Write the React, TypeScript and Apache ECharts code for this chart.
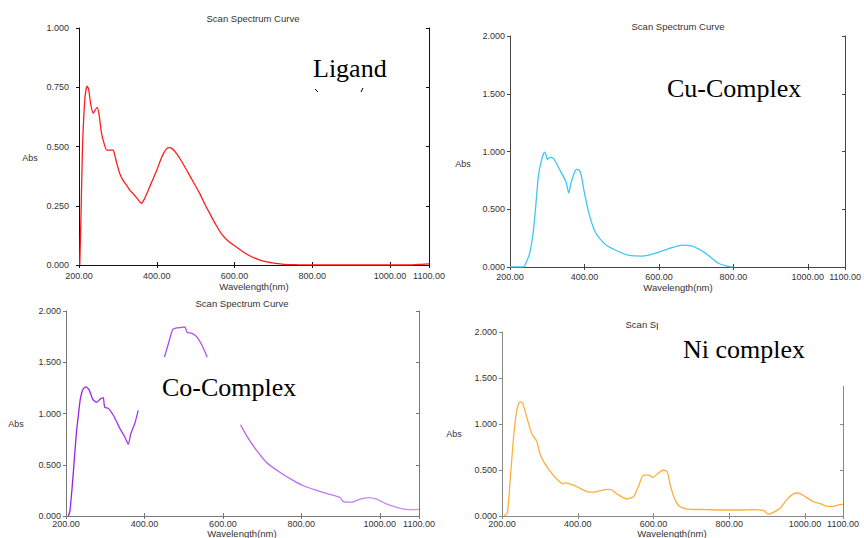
import React, { useEffect, useRef } from "react";
import * as echarts from "echarts";

const xTicks = [200, 400, 600, 800, 1000, 1100];

const ligandWl = [202, 205, 209, 213, 217, 221, 225, 230, 237, 242, 247, 252, 258, 265, 271, 280, 288, 291, 297, 305, 314, 323, 331, 340, 350, 361, 367, 374, 387, 400, 409, 417, 425, 432, 440, 451, 463, 477, 494, 511, 524, 537, 552, 567, 584, 601, 620, 640, 660, 683, 705, 726, 760, 800, 850, 900, 950, 1000, 1050, 1080, 1100];
const ligandAbs = [0, 0.2, 0.5, 0.65, 0.73, 0.755, 0.74, 0.68, 0.64, 0.655, 0.665, 0.63, 0.555, 0.51, 0.485, 0.485, 0.485, 0.47, 0.43, 0.385, 0.355, 0.335, 0.315, 0.3, 0.28, 0.26, 0.275, 0.3, 0.35, 0.4, 0.44, 0.47, 0.49, 0.495, 0.49, 0.47, 0.44, 0.4, 0.35, 0.3, 0.255, 0.215, 0.17, 0.13, 0.1, 0.08, 0.058, 0.038, 0.024, 0.013, 0.007, 0.003, 0.001, 0, 0, 0, 0, 0, 0, 0.003, 0.005];

const cuWl = [200, 236, 245, 253, 262, 269, 276, 285, 293, 297, 300, 307, 317, 334, 350, 358, 362, 365, 372, 378, 385, 391, 400, 414, 431, 458, 494, 521, 556, 592, 627, 663, 690, 725, 761, 796, 800];
const cuAbs = [0, 0, 0.05, 0.12, 0.29, 0.52, 0.78, 0.93, 0.995, 0.97, 0.93, 0.95, 0.94, 0.84, 0.74, 0.64, 0.7, 0.74, 0.81, 0.845, 0.84, 0.8, 0.64, 0.44, 0.29, 0.19, 0.13, 0.1, 0.095, 0.12, 0.16, 0.19, 0.18, 0.12, 0.03, 0, 0];

const coWl = [206, 210, 215, 219, 223, 227, 232, 236, 240, 244, 251, 259, 268, 278, 287, 295, 297, 299, 308, 321, 338, 350, 359, 365, 376, 384, 400, 451, 461, 472, 482, 495, 503, 509, 520, 533, 546, 560, 600, 645, 661, 686, 712, 746, 780, 805, 839, 873, 899, 907, 928, 949, 971, 992, 1018, 1052, 1077, 1100];
const coAbs: (number | null)[] = [0, 0.05, 0.25, 0.44, 0.64, 0.83, 1.0, 1.13, 1.2, 1.24, 1.26, 1.23, 1.14, 1.11, 1.14, 1.155, 1.1, 1.06, 1.05, 0.98, 0.85, 0.77, 0.7, 0.8, 0.91, 1.03, null, 1.55, 1.68, 1.82, 1.835, 1.84, 1.845, 1.79, 1.785, 1.75, 1.67, 1.55, null, 0.89, 0.78, 0.64, 0.52, 0.425, 0.345, 0.295, 0.25, 0.21, 0.18, 0.14, 0.135, 0.165, 0.18, 0.165, 0.115, 0.075, 0.062, 0.065];

const niWl = [205, 214, 221, 230, 239, 247, 254, 265, 278, 292, 300, 313, 335, 353, 360, 366, 379, 397, 424, 441, 459, 476, 489, 507, 529, 547, 560, 573, 586, 598, 612, 626, 636, 645, 657, 670, 696, 740, 784, 837, 859, 890, 903, 916, 934, 951, 969, 982, 1000, 1022, 1040, 1057, 1075, 1088, 1100];
const niAbs = [0, 0.03, 0.36, 0.83, 1.15, 1.24, 1.23, 1.08, 0.9, 0.81, 0.68, 0.57, 0.445, 0.37, 0.35, 0.36, 0.35, 0.32, 0.265, 0.26, 0.275, 0.29, 0.285, 0.23, 0.185, 0.21, 0.32, 0.445, 0.445, 0.42, 0.465, 0.5, 0.48, 0.32, 0.175, 0.1, 0.073, 0.07, 0.065, 0.065, 0.07, 0.06, 0.02, 0.04, 0.085, 0.175, 0.24, 0.25, 0.21, 0.155, 0.135, 0.105, 0.105, 0.12, 0.13];

const titleText = "Scan Spectrum Curve";
const xName = "Wavelength(nm)";
const yName = "Abs";
const panelLabels = ["Ligand", "Cu-Complex", "Co-Complex", "Ni complex"];

const zip = (xs: number[], ys: (number | null)[]) =>
  xs.map((x, i) => [x, ys[i] === null ? "-" : ys[i]]);

const panels = [
  { grid: { left: 79, top: 28, width: 350, height: 237 }, yMax: 1, yInt: 0.25, axisColor: "#111", yMargin: 10, xMargin: 7, title: [253, 18], abs: [30, 158], xname: [254, 286], label: [313, 68], data: zip(ligandWl, ligandAbs), color: "#ff1c1c" },
  { grid: { left: 510, top: 36, width: 337, height: 231 }, yMax: 2, yInt: 0.5, axisColor: "#444", yMargin: 5, xMargin: 6, title: [678, 26], abs: [463, 164], xname: [678, 287], label: [667, 88], data: zip(cuWl, cuAbs), color: "#3cc8f4" },
  { grid: { left: 66, top: 311, width: 353, height: 205 }, yMax: 2, yInt: 0.5, axisColor: "#777", yMargin: 5, xMargin: 4, title: [242, 303], abs: [16, 424], xname: [242, 533.5], label: [162, 387], data: zip(coWl, coAbs), color: new echarts.graphic.LinearGradient(0, 0, 1, 0, [{ offset: 0, color: "#9a1ee6" }, { offset: 0.35, color: "#b050ee" }, { offset: 1, color: "#cc90f2" }]) },
  { grid: { left: 502, top: 332, width: 341, height: 184 }, yMax: 2, yInt: 0.5, axisColor: "#888", yMargin: 5, xMargin: 4, title: [672, 324], abs: [454, 434], xname: [672, 533.5], label: [683, 349], data: zip(niWl, niAbs), color: "#ffae3c" },
];

const labelFont = { fontFamily: "Liberation Sans, Arial, sans-serif", fontSize: 9, lineHeight: 7, color: "#333" };
const yLabelFont = { ...labelFont, lineHeight: 7 };

export default function App() {
  const ref = useRef<HTMLDivElement>(null);
  useEffect(() => {
    if (!ref.current) return;
    const chart = echarts.init(ref.current, undefined, { renderer: "svg" });
    const grids: any[] = [];
    const xAxes: any[] = [];
    const yAxes: any[] = [];
    const series: any[] = [];
    const graphics: any[] = [];
    panels.forEach((p, i) => {
      grids.push({ ...p.grid, containLabel: false });
      const line = { show: true, lineStyle: { color: p.axisColor, width: 1 } };
      xAxes.push({
        type: "value", gridIndex: i, position: "bottom", min: xTicks[0], max: xTicks[xTicks.length - 1], interval: 200,
        axisLine: line, splitLine: { show: false },
        axisTick: { show: true, inside: true, length: 3, lineStyle: { color: p.axisColor } },
        axisLabel: { ...labelFont, margin: p.xMargin, showMinLabel: true, showMaxLabel: true, formatter: (v: number) => v.toFixed(2) },
      });
      xAxes.push({
        type: "value", gridIndex: i, position: "top", min: xTicks[0], max: xTicks[xTicks.length - 1], interval: 200,
        axisLine: line, splitLine: { show: false },
        axisTick: { show: true, inside: true, length: 3, lineStyle: { color: p.axisColor } },
        axisLabel: { show: false },
      });
      yAxes.push({
        type: "value", gridIndex: i, position: "left", min: 0, max: p.yMax, interval: p.yInt,
        axisLine: line, splitLine: { show: false },
        axisTick: { show: true, inside: false, length: 3, lineStyle: { color: p.axisColor } },
        axisLabel: { ...yLabelFont, margin: p.yMargin, showMinLabel: true, showMaxLabel: true, formatter: (v: number) => v.toFixed(3) },
      });
      yAxes.push({
        type: "value", gridIndex: i, position: "right", min: 0, max: p.yMax, interval: p.yInt,
        axisLine: line, splitLine: { show: false },
        axisTick: { show: true, inside: true, length: 3, lineStyle: { color: p.axisColor } },
        axisLabel: { show: false },
      });
      series.push({
        type: "line", xAxisIndex: i * 2, yAxisIndex: i * 2, data: p.data,
        showSymbol: false, smooth: 0.2, connectNulls: false, clip: true,
        lineStyle: { color: p.color, width: 1.3 }, z: 3,
      });
      graphics.push({ type: "text", x: p.title[0], y: p.title[1], style: { text: titleText, align: "center", verticalAlign: "middle", font: "9.5px 'Liberation Sans', Arial, sans-serif", lineHeight: 9, fill: "#333" }, z: 10 });
      graphics.push({ type: "text", x: p.abs[0], y: p.abs[1], style: { text: yName, align: "center", verticalAlign: "middle", font: "9px 'Liberation Sans', Arial, sans-serif", lineHeight: 9, fill: "#333" }, z: 10 });
      graphics.push({ type: "text", x: p.xname[0], y: p.xname[1], style: { text: xName, align: "center", verticalAlign: "middle", font: "9.5px 'Liberation Sans', Arial, sans-serif", lineHeight: 8, fill: "#333" }, z: 10 });
    });
    // white patch that covers the top-right of the Ni panel
    graphics.push({ type: "rect", shape: { x: 658, y: 295, width: 206, height: 91 }, style: { fill: "#fff" }, z: 100 });
    panels.forEach((p, i) => {
      graphics.push({ type: "text", x: p.label[0], y: p.label[1], style: { text: panelLabels[i], align: "left", verticalAlign: "middle", font: "26px 'Liberation Serif', 'Times New Roman', serif", fill: "#000" }, z: 101 });
    });
    graphics.push({ type: "line", shape: { x1: 315, y1: 89, x2: 318, y2: 92 }, style: { stroke: "#000", lineWidth: 1 }, z: 101 });
    graphics.push({ type: "line", shape: { x1: 363, y1: 88, x2: 361, y2: 92 }, style: { stroke: "#000", lineWidth: 1 }, z: 101 });

    chart.setOption({
      animation: false,
      backgroundColor: "#fff",
      grid: grids,
      xAxis: xAxes,
      yAxis: yAxes,
      series,
      graphic: graphics,
    });
    return () => chart.dispose();
  }, []);
  return <div ref={ref} style={{ position: "absolute", left: 0, top: 0, width: 864, height: 538 }} />;
}
